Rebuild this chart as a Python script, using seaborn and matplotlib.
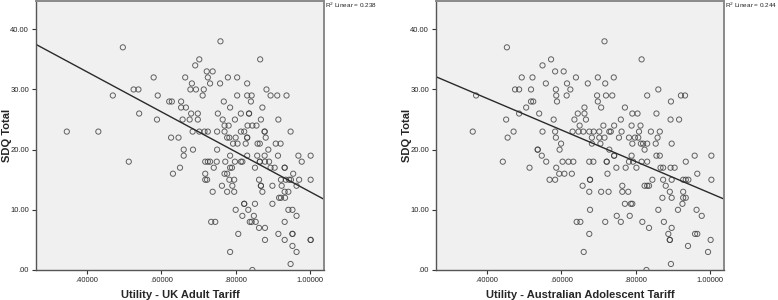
import numpy as np
import pandas as pd
import matplotlib
matplotlib.use("Agg")
import matplotlib.pyplot as plt
from matplotlib.ticker import FuncFormatter
import seaborn as sns

# SDQ total vs utility, one row per SDQ score
uk_x = [0.759,
        0.496,
        0.702, 0.866,
        0.691,
        0.722, 0.738,
        0.579, 0.664, 0.725, 0.779, 0.804,
        0.682, 0.731, 0.758, 0.831,
        0.525, 0.538, 0.678, 0.693, 0.714, 0.883,
        0.469, 0.590, 0.711, 0.804, 0.831, 0.843, 0.894, 0.912, 0.937,
        0.621, 0.628, 0.653, 0.768, 0.841,
        0.653, 0.666, 0.785, 0.872,
        0.540, 0.680, 0.698, 0.752, 0.814, 0.836, 0.836,
        0.588, 0.657, 0.676, 0.698, 0.765, 0.798, 0.868, 0.915,
        0.770, 0.781, 0.832, 0.845, 0.856,
        0.345, 0.430, 0.684, 0.702, 0.716, 0.725, 0.750, 0.770, 0.814, 0.823, 0.878, 0.878, 0.948,
        0.626, 0.646, 0.777, 0.783, 0.800, 0.831, 0.831, 0.881,
        0.793, 0.805, 0.827, 0.859, 0.865, 0.908, 0.921,
        0.660, 0.685, 0.750, 0.888,
        0.660, 0.785, 0.831, 0.858, 0.878, 0.914, 0.969, 1.002,
        0.512, 0.718, 0.725, 0.731, 0.749, 0.772, 0.798, 0.814, 0.818, 0.865, 0.865, 0.879, 0.890, 0.978,
        0.650, 0.741, 0.785, 0.790, 0.852, 0.894, 0.905, 0.932, 0.932,
        0.631, 0.718, 0.770, 0.777, 0.955,
        0.718, 0.723, 0.783, 0.796, 0.863, 0.922, 0.935, 0.944, 0.949, 0.971, 1.002,
        0.763, 0.791, 0.868, 0.868, 0.899, 0.924, 0.964,
        0.738, 0.777, 0.796, 0.872, 0.932, 0.942,
        0.917, 0.922, 0.933,
        0.823, 0.823, 0.852, 0.899,
        0.800, 0.834, 0.942, 0.953,
        0.818, 0.849, 0.964,
        0.734, 0.745, 0.838, 0.843, 0.854, 0.932,
        0.863, 0.879,
        0.807, 0.915, 0.953, 0.953,
        0.879, 0.932, 1.002, 1.002,
        0.953,
        0.785, 0.964,
        0.948,
        0.845]
uk_y = [38,
        37,
        35, 35,
        34,
        33, 33,
        32, 32, 32, 32, 32,
        31, 31, 31, 31,
        30, 30, 30, 30, 30, 30,
        29, 29, 29, 29, 29, 29, 29, 29, 29,
        28, 28, 28, 28, 28,
        27, 27, 27, 27,
        26, 26, 26, 26, 26, 26, 26,
        25, 25, 25, 25, 25, 25, 25, 25,
        24, 24, 24, 24, 24,
        23, 23, 23, 23, 23, 23, 23, 23, 23, 23, 23, 23, 23,
        22, 22, 22, 22, 22, 22, 22, 22,
        21, 21, 21, 21, 21, 21, 21,
        20, 20, 20, 20,
        19, 19, 19, 19, 19, 19, 19, 19,
        18, 18, 18, 18, 18, 18, 18, 18, 18, 18, 18, 18, 18, 18,
        17, 17, 17, 17, 17, 17, 17, 17, 17,
        16, 16, 16, 16, 16,
        15, 15, 15, 15, 15, 15, 15, 15, 15, 15, 15,
        14, 14, 14, 14, 14, 14, 14,
        13, 13, 13, 13, 13, 13,
        12, 12, 12,
        11, 11, 11, 11,
        10, 10, 10, 10,
        9, 9, 9,
        8, 8, 8, 8, 8, 8,
        7, 7,
        6, 6, 6, 6,
        5, 5, 5, 5,
        4,
        3, 3,
        1,
        0]

au_x = [0.716,
        0.453,
        0.572, 0.816,
        0.549,
        0.583, 0.606,
        0.493, 0.522, 0.639, 0.698, 0.741,
        0.558, 0.615, 0.671, 0.718,
        0.475, 0.486, 0.518, 0.585, 0.624, 0.861,
        0.370, 0.586, 0.614, 0.696, 0.720, 0.737, 0.831, 0.922, 0.933,
        0.518, 0.524, 0.588, 0.698, 0.895,
        0.505, 0.662, 0.707, 0.771,
        0.486, 0.540, 0.644, 0.662, 0.791, 0.805, 0.856,
        0.451, 0.579, 0.635, 0.666, 0.760, 0.894, 0.917,
        0.649, 0.713, 0.742, 0.789, 0.813,
        0.361, 0.471, 0.549, 0.583, 0.630, 0.646, 0.659, 0.675, 0.687, 0.702, 0.729, 0.733, 0.762, 0.809, 0.841, 0.865,
        0.455, 0.585, 0.682, 0.702, 0.716, 0.755, 0.782, 0.798, 0.807, 0.859,
        0.599, 0.682, 0.705, 0.791, 0.814, 0.820, 0.831, 0.854, 0.897,
        0.536, 0.536, 0.595, 0.729, 0.824,
        0.547, 0.742, 0.742, 0.789, 0.856, 0.865, 0.959, 1.004,
        0.442, 0.559, 0.603, 0.619, 0.632, 0.675, 0.686, 0.722, 0.722, 0.782, 0.793, 0.816, 0.831, 0.935,
        0.514, 0.586, 0.748, 0.773, 0.802, 0.867, 0.874, 0.894, 0.905,
        0.594, 0.608, 0.628, 0.724, 0.966,
        0.568, 0.583, 0.677, 0.677, 0.845, 0.874, 0.897, 0.928, 0.935, 0.942, 1.004,
        0.657, 0.764, 0.824, 0.831, 0.836, 0.881,
        0.675, 0.707, 0.727, 0.764, 0.780, 0.892, 0.928,
        0.872, 0.897, 0.928, 0.935,
        0.771, 0.787, 0.791, 0.926,
        0.677, 0.861, 0.914, 0.964,
        0.749, 0.784, 0.978,
        0.641, 0.651, 0.718, 0.760, 0.818, 0.876,
        0.836, 0.897,
        0.675, 0.888, 0.960, 0.966,
        0.892, 0.892, 1.002,
        0.941,
        0.660, 0.995,
        0.895,
        0.829]
au_y = [38,
        37,
        35, 35,
        34,
        33, 33,
        32, 32, 32, 32, 32,
        31, 31, 31, 31,
        30, 30, 30, 30, 30, 30,
        29, 29, 29, 29, 29, 29, 29, 29, 29,
        28, 28, 28, 28, 28,
        27, 27, 27, 27,
        26, 26, 26, 26, 26, 26, 26,
        25, 25, 25, 25, 25, 25, 25,
        24, 24, 24, 24, 24,
        23, 23, 23, 23, 23, 23, 23, 23, 23, 23, 23, 23, 23, 23, 23, 23,
        22, 22, 22, 22, 22, 22, 22, 22, 22, 22,
        21, 21, 21, 21, 21, 21, 21, 21, 21,
        20, 20, 20, 20, 20,
        19, 19, 19, 19, 19, 19, 19, 19,
        18, 18, 18, 18, 18, 18, 18, 18, 18, 18, 18, 18, 18, 18,
        17, 17, 17, 17, 17, 17, 17, 17, 17,
        16, 16, 16, 16, 16,
        15, 15, 15, 15, 15, 15, 15, 15, 15, 15, 15,
        14, 14, 14, 14, 14, 14,
        13, 13, 13, 13, 13, 13, 13,
        12, 12, 12, 12,
        11, 11, 11, 11,
        10, 10, 10, 10,
        9, 9, 9,
        8, 8, 8, 8, 8, 8,
        7, 7,
        6, 6, 6, 6,
        5, 5, 5,
        4,
        3, 3,
        1,
        0]

x_labels = ["Utility - UK Adult Tariff", "Utility - Australian Adolescent Tariff"]
r2_values = [0.238, 0.244]
x_ticks = [0.4, 0.6, 0.8, 1.0]
y_ticks = [0, 10, 20, 30, 40]

sns.set_style("ticks")
plt.rcParams["font.family"] = ["Liberation Sans", "DejaVu Sans"]

fig = plt.figure(figsize=(7.78, 3.0), dpi=100)
ax1 = fig.add_axes([36 / 778, 30 / 300, 288 / 778, 269 / 300])
ax2 = fig.add_axes([436 / 778, 30 / 300, 288 / 778, 269 / 300])

def fmt_y(v, pos):
    s = "%.2f" % v
    return s[1:] if s.startswith("0") else s

def fmt_x(v, pos):
    s = "%.5f" % v
    return s[1:] if s.startswith("0") else s

panels = [(ax1, uk_x, uk_y), (ax2, au_x, au_y)]
for i, (ax, xs, ys) in enumerate(panels):
    df = pd.DataFrame({"util": xs, "sdq": ys})
    ax.set_facecolor("#f0f0f0")
    ax.set_xlim(0.262, 1.038)
    ax.set_ylim(0, 44.7)
    sns.regplot(data=df, x="util", y="sdq", ax=ax, ci=None, truncate=False,
                scatter_kws=dict(s=14, facecolors="none", edgecolors="#3c3c3c",
                                 linewidths=0.7),
                line_kws=dict(color="#2a2a2a", lw=1.0))
    ax.set_xlim(0.262, 1.038)
    ax.set_ylim(0, 44.7)
    ax.set_xticks(x_ticks)
    ax.set_yticks(y_ticks)
    ax.xaxis.set_major_formatter(FuncFormatter(fmt_x))
    ax.yaxis.set_major_formatter(FuncFormatter(fmt_y))
    ax.tick_params(labelsize=5.5, length=3, width=0.8, color="#333333", pad=2)
    for side in ["left", "bottom"]:
        ax.spines[side].set_color("#555555")
        ax.spines[side].set_linewidth(1.0)
    for side in ["top", "right"]:
        ax.spines[side].set_visible(True)
        ax.spines[side].set_color("#8a8a8a")
        ax.spines[side].set_linewidth(1.4)
    ax.set_xlabel(x_labels[i], fontsize=8, fontweight="bold", labelpad=4)
    ax.set_ylabel("SDQ Total", fontsize=8, fontweight="bold")
    ax.yaxis.set_label_coords(-0.085, 0.5)
    ax.text(1.002, 0.982, "R$^2$ Linear = %.3f" % r2_values[i], transform=ax.transAxes,
            fontsize=4.6, ha="left", va="center", color="#222222")

fig.savefig("out.png", dpi=100)
